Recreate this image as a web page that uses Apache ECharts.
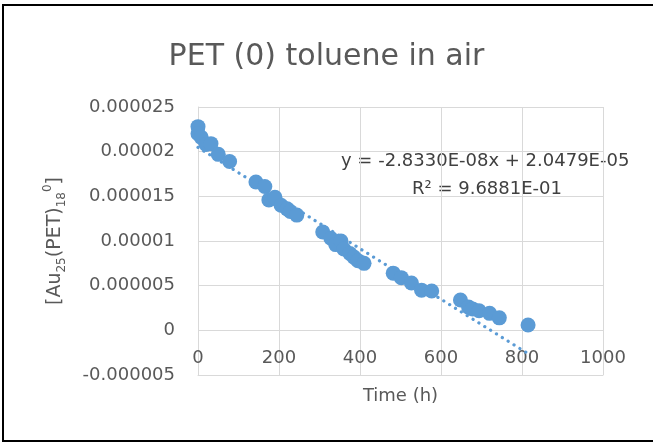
<!DOCTYPE html>
<html>
<head>
<meta charset="utf-8">
<script src="https://cdn.jsdelivr.net/npm/echarts@6/dist/echarts.min.js"></script>
<style>
html,body{margin:0;padding:0;background:#fff;}
#chart{width:653px;height:442px;}
</style>
</head>
<body>
<div id="chart"></div>
<script>
// Time (h)
var timeH = [0, 0, 8, 20, 32, 50, 78,
  143, 165, 175, 190, 205, 220, 228, 244,
  308, 328, 340, 353, 360, 375, 385, 395, 410,
  482, 502, 527, 552, 577,
  648, 668, 678, 694, 720, 744,
  815];
// concentration (x1e-6)
var concMicro = [22.8, 22.0, 21.6, 20.8, 20.9, 19.7, 18.9,
  16.6, 16.1, 14.6, 14.9, 14.0, 13.6, 13.3, 12.9,
  11.0, 10.3, 9.6, 10.0, 9.1, 8.6, 8.2, 7.8, 7.5,
  6.4, 5.9, 5.3, 4.5, 4.4,
  3.4, 2.6, 2.4, 2.2, 1.9, 1.4,
  0.6];
var xTicks = [0, 200, 400, 600, 800, 1000];
var yTickLabels = ['-0.000005', '0', '0.000005', '0.00001', '0.000015', '0.00002', '0.000025'];
var slope = -2.8330E-08;
var intercept = 2.0479E-05;
var eqText = 'y = -2.8330E-08x + 2.0479E-05';
var r2Text = 'R\u00B2 = 9.6881E-01';
var titleText = 'PET (0) toluene in air';

var pts = timeH.map(function (t, i) { return [t, concMicro[i] * 1e-6]; });
var xMinD = Math.min.apply(null, timeH), xMaxD = Math.max.apply(null, timeH);
var trend = [[xMinD, slope * xMinD + intercept], [xMaxD, slope * xMaxD + intercept]];

var F = 'DejaVu Sans';
var chart = echarts.init(document.getElementById('chart'));
chart.setOption({
  animation: false,
  backgroundColor: '#fff',
  title: {
    text: titleText, left: 'center', top: 37,
    textStyle: { fontFamily: F, fontSize: 30, fontWeight: 'normal', color: '#595959' }
  },
  grid: { left: 198, right: 50, top: 107, bottom: 67, containLabel: false, outerBoundsMode: 'none' },
  xAxis: {
    type: 'value', min: 0, max: 1000, interval: 200,
    axisLine: { onZero: false, lineStyle: { color: '#d9d9d9', width: 1 } },
    axisTick: { show: false },
    splitLine: { lineStyle: { color: '#d9d9d9', width: 1 } },
    axisLabel: {
      margin: -26, fontFamily: F, fontSize: 18, color: '#595959',
      formatter: function (v) { var i = xTicks.indexOf(v); return i >= 0 ? String(xTicks[i]) : ''; }
    },
    name: 'Time (h)', nameLocation: 'middle', nameGap: 12,
    nameTextStyle: { fontFamily: F, fontSize: 18, color: '#595959' }
  },
  yAxis: {
    type: 'value', min: -0.000005, max: 0.000025, interval: 0.000005,
    axisLine: { show: true, lineStyle: { color: '#d9d9d9', width: 1 } },
    axisTick: { show: false },
    splitLine: { lineStyle: { color: '#d9d9d9', width: 1 } },
    axisLabel: {
      margin: 23, fontFamily: F, fontSize: 18, color: '#595959',
      formatter: function (v) {
        var idx = Math.round((v + 0.000005) / 0.000005);
        return yTickLabels[idx] !== undefined ? yTickLabels[idx] : '';
      }
    },
    name: '[Au{sub|25}(PET){sub|18}{sup|0}]', nameLocation: 'middle', nameGap: 130, nameRotate: 90,
    nameTextStyle: {
      fontFamily: F, fontSize: 19, color: '#595959', lineHeight: 26,
      rich: {
        sub: { fontFamily: F, fontSize: 12, color: '#595959', verticalAlign: 'bottom', lineHeight: 26, padding: [8, 0, 0, 0] },
        sup: { fontFamily: F, fontSize: 12, color: '#595959', verticalAlign: 'top', lineHeight: 26, padding: [0, 0, 10, 0] }
      }
    }
  },
  series: [
    {
      type: 'line', data: trend, symbol: 'none', silent: true, z: 1,
      lineStyle: { color: '#5b9bd5', width: 3.2, type: [0.1, 6.8], cap: 'round' }
    },
    {
      type: 'scatter', data: pts, symbolSize: 15, z: 2,
      itemStyle: { color: '#5b9bd5', opacity: 1 }
    }
  ],
  graphic: [
    { type: 'text', left: 341, top: 152, style: { text: eqText, font: '18px "DejaVu Sans"', fill: '#404040' } },
    { type: 'text', left: 412, top: 180, style: { text: r2Text, font: '18px "DejaVu Sans"', fill: '#404040' } },
    { type: 'line', shape: { x1: 3, y1: 5, x2: 653, y2: 5 }, style: { stroke: '#000', lineWidth: 2 } },
    { type: 'line', shape: { x1: 3, y1: 4, x2: 3, y2: 442 }, style: { stroke: '#000', lineWidth: 2 } },
    { type: 'line', shape: { x1: 3, y1: 441, x2: 653, y2: 441 }, style: { stroke: '#000', lineWidth: 2 } }
  ]
});
</script>
</body>
</html>
